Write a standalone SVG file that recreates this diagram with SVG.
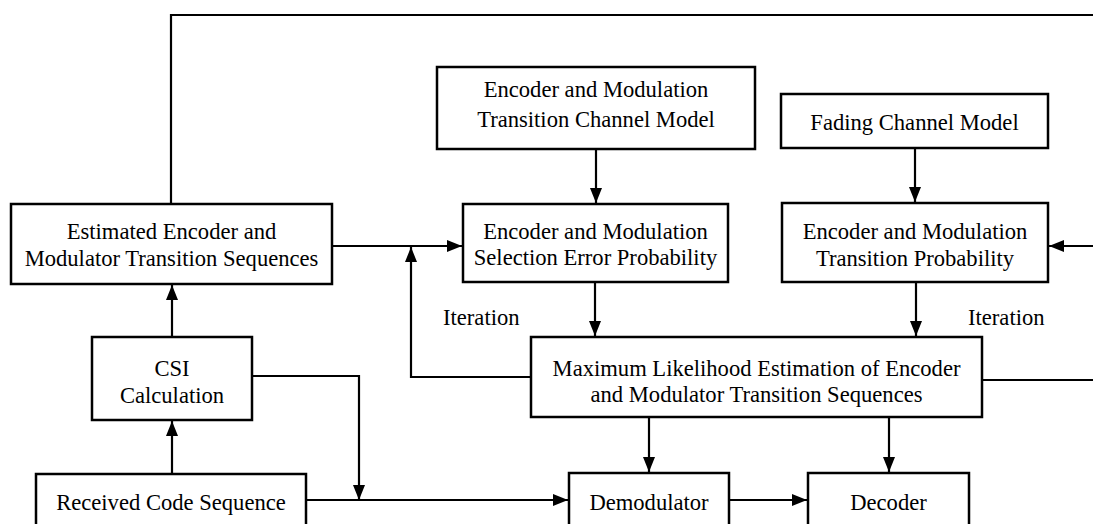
<svg xmlns="http://www.w3.org/2000/svg" width="1093" height="524" viewBox="0 0 1093 524">
<style>
.box{fill:#fff;stroke:#000;stroke-width:2.5}
.t{font-family:"Liberation Serif","Times New Roman",serif;font-size:22.6px;fill:#000;text-anchor:middle}
.l{font-family:"Liberation Serif","Times New Roman",serif;font-size:22.6px;fill:#000}
.c{fill:none;stroke:#000;stroke-width:2.2}
</style>
<defs>
<marker id="ah" markerUnits="userSpaceOnUse" markerWidth="16" markerHeight="12" refX="15" refY="6" orient="auto">
<path d="M0,0 L15,6 L0,12 Z" fill="#000"/>
</marker>
</defs>
<rect width="1093" height="524" fill="#fff"/>
<g id="connectors">
<path class="c" d="M171,204 V15 H1093"/>
<path class="c" d="M1093,246 H1049" marker-end="url(#ah)"/>
<path class="c" d="M332,246 H462" marker-end="url(#ah)"/>
<path class="c" d="M531,377 H411 V247" marker-end="url(#ah)"/>
<path class="c" d="M596,149 V203" marker-end="url(#ah)"/>
<path class="c" d="M595,282 V336" marker-end="url(#ah)"/>
<path class="c" d="M915,148 V202" marker-end="url(#ah)"/>
<path class="c" d="M916,282 V336" marker-end="url(#ah)"/>
<path class="c" d="M982,380 H1093"/>
<path class="c" d="M172,337 V285" marker-end="url(#ah)"/>
<path class="c" d="M172,474 V421" marker-end="url(#ah)"/>
<path class="c" d="M252,376 H359 V500" marker-end="url(#ah)"/>
<path class="c" d="M306,500 H568" marker-end="url(#ah)"/>
<path class="c" d="M649,417 V472" marker-end="url(#ah)"/>
<path class="c" d="M729,500 H807" marker-end="url(#ah)"/>
<path class="c" d="M889,417 V472" marker-end="url(#ah)"/>
</g>
<g id="estimated">
<rect class="box" x="11" y="204" width="321" height="80"/>
<text class="t" x="171.5" y="239">Estimated Encoder and</text>
<text class="t" x="171.5" y="266">Modulator Transition Sequences</text>
</g>
<g id="channel-model">
<rect class="box" x="437" y="67" width="318" height="82"/>
<text class="t" x="596" y="97">Encoder and Modulation</text>
<text class="t" x="596" y="127">Transition Channel Model</text>
</g>
<g id="selection-error">
<rect class="box" x="463" y="204" width="265" height="78"/>
<text class="t" x="595.5" y="239">Encoder and Modulation</text>
<text class="t" x="595.5" y="265">Selection Error Probability</text>
</g>
<g id="fading">
<rect class="box" x="781" y="94" width="267" height="54"/>
<text class="t" x="914.5" y="130">Fading Channel Model</text>
</g>
<g id="transition-prob">
<rect class="box" x="782" y="203" width="266" height="79"/>
<text class="t" x="915" y="239">Encoder and Modulation</text>
<text class="t" x="915" y="266">Transition Probability</text>
</g>
<g id="ml">
<rect class="box" x="531" y="337" width="451" height="80"/>
<text class="t" x="756.5" y="376">Maximum Likelihood Estimation of Encoder</text>
<text class="t" x="756.5" y="402">and Modulator Transition Sequences</text>
</g>
<g id="csi">
<rect class="box" x="92" y="337" width="160" height="83"/>
<text class="t" x="172" y="376">CSI</text>
<text class="t" x="172" y="403">Calculation</text>
</g>
<g id="received">
<rect class="box" x="36" y="474" width="270" height="60"/>
<text class="t" x="171" y="510">Received Code Sequence</text>
</g>
<g id="demodulator">
<rect class="box" x="569" y="473" width="160" height="61"/>
<text class="t" x="649" y="510">Demodulator</text>
</g>
<g id="decoder">
<rect class="box" x="808" y="473" width="161" height="61"/>
<text class="t" x="888.5" y="510">Decoder</text>
</g>
<g id="labels">
<text class="l" x="443" y="325">Iteration</text>
<text class="l" x="968" y="325">Iteration</text>
</g>
</svg>
